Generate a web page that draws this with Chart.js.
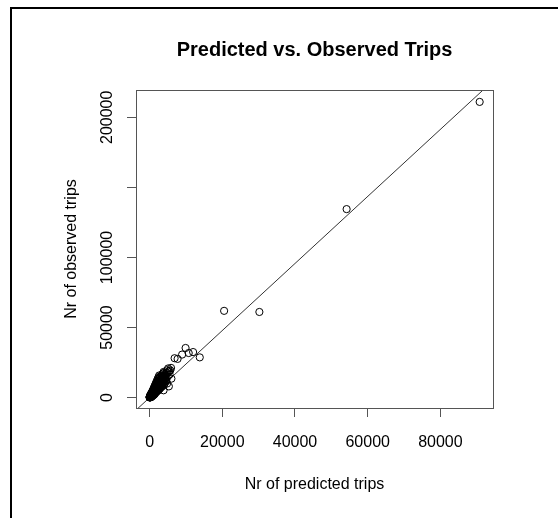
<!DOCTYPE html>
<html>
<head>
<meta charset="utf-8">
<script src="https://cdn.jsdelivr.net/npm/chart.js@4/dist/chart.umd.min.js"></script>
<style>
  html, body { margin: 0; padding: 0; background: #fff; }
  #wrap { width: 558px; height: 518px; }
</style>
</head>
<body>
<div id="wrap"><canvas id="chart" width="558" height="518"></canvas></div>
<script>
// --- DATA ---
const chartTitle = 'Predicted vs. Observed Trips';
const xTitle = 'Nr of predicted trips';
const yTitle = 'Nr of observed trips';

const xTicks = [0, 20000, 40000, 60000, 80000];
const xTickLabels = ['0', '20000', '40000', '60000', '80000'];
const yTicks = [0, 50000, 100000, 150000, 200000];
// R drops the 150000 label because it would collide with its neighbours
const yTickLabels = ['0', '50000', '100000', '', '200000'];

// predicted trips (x) and observed trips (y)
const predicted = [
    0, 20, 35, 60, 80, 110, 130, 150, 170, 190, 210, 240, 260, 280, 300, 320, 350, 370, 400, 420,
    450, 470, 500, 520, 550, 580, 600, 630, 660, 690, 720, 750, 780, 800, 830, 860, 900, 930, 960, 1000,
    1040, 1080, 1120, 1160, 1200, 1240, 1280, 1320, 1360, 1400, 1450, 1500, 1550, 1600, 1650, 1700, 1750, 1800, 1850, 1900,
    1950, 2000, 2060, 2120, 2180, 2240, 2300, 2360, 2420, 2480, 2550, 2620, 2700, 2780, 2850, 2930, 3000, 3100, 3200, 3300,
    3400, 3500, 3600, 3700, 3800, 3900, 4000, 4150, 4300, 4450, 4600, 4800, 5000, 5200, 5500, 5700, 3850, 4800, 6000, 4200,
    3850, 4800, 5300, 2500, 1300, 700,
    100, 200, 300, 400, 500, 600, 700, 800, 900, 1000, 1100, 1200, 1300, 1400, 1500, 1600, 1700, 1800, 1900, 2000,
    2100, 2200, 2300, 2400, 2500, 2600, 2700, 2800, 2900, 3000, 3150, 3300, 3450, 3600, 3750, 3900, 4050, 4200, 4400, 4600,
    50, 250, 450, 650, 850, 1050, 1250, 1450, 1650, 1850, 2050, 2250, 2450, 2650,
    150, 350, 550, 750, 950, 1150, 1350, 1550, 1750, 1950, 2150, 2350, 2550, 2750, 2950, 3150, 3350, 3550, 3750, 3950, 4150,
    5100, 5900, 5400,
    6880, 7700, 8950, 9900, 10760, 11970, 13800,
    20500, 30200, 54200, 90800
];
const observed = [
    150, 90, 420, 260, 510, 180, 640, 380, 820, 300, 960, 560, 1100, 720, 1340, 450, 1520, 980, 1700, 1210,
    620, 1880, 1450, 2150, 980, 2420, 1760, 2650, 1300, 2900, 2050, 3150, 1620, 3400, 2480, 3700, 2100, 3950, 2850, 4300,
    3200, 4650, 2600, 4950, 3750, 5300, 3100, 5650, 4300, 6000, 3600, 6400, 4900, 6900, 4200, 7300, 5600, 7800, 4800, 8200,
    6300, 8700, 5500, 9200, 7000, 9700, 6200, 10200, 7800, 10800, 6900, 11300, 8700, 11900, 7600, 12400, 9500, 13000, 8400, 13700,
    10500, 14300, 9300, 15000, 11600, 15600, 12700, 16200, 13900, 16900, 11800, 17700, 15000, 18400, 16500, 19500, 18300, 19500, 13500, 10400,
    5200, 10000, 8000, 5600, 2400, 1500,
    1200, 1800, 200, 2600, 500, 3200, 900, 4200, 1400, 5200, 1800, 6200, 2200, 7000, 2900, 8000, 3600, 9100, 4100, 10400,
    4600, 11200, 5100, 12200, 5500, 13100, 6100, 14200, 6700, 15000, 7300, 16000, 8000, 17000, 8700, 17600, 9500, 15300, 12000, 14500,
    700, 1700, 2900, 3900, 5000, 6200, 7400, 8600, 9800, 11000, 12100, 13400, 14600, 15800,
    900, 400, 1400, 2600, 3400, 4100, 5000, 5900, 6700, 7600, 8300, 9000, 10100, 10600, 11400, 12100, 12600, 13200, 13900, 14600, 12600,
    20800, 21200, 19000,
    28100, 27600, 30700, 35400, 31800, 32500, 28700,
    61900, 61100, 134500, 211000
];

// fitted line through the cloud (end points)
const fitX = [-4000, 95000];
const fitY = [-9570, 227300];

// --- CHART ---
const pointData = predicted.map((x, i) => ({ x, y: observed[i] }));
const fitData = fitX.map((x, i) => ({ x, y: fitY[i] }));

const FONT = '"Liberation Sans", Arial, sans-serif';

const rStyle = {
    id: 'rStyle',
    beforeDraw(chart) {
        const ctx = chart.ctx;
        ctx.save();
        ctx.fillStyle = '#fff';
        ctx.fillRect(0, 0, chart.width, chart.height);
        // outer frame (left and top only)
        ctx.strokeStyle = '#000';
        ctx.lineWidth = 2;
        ctx.beginPath();
        ctx.moveTo(11, chart.height);
        ctx.lineTo(11, 8);
        ctx.lineTo(chart.width, 8);
        ctx.stroke();
        ctx.restore();
    },
    afterDraw(chart) {
        const ctx = chart.ctx;
        const a = chart.chartArea;
        const xs = chart.scales.x, ys = chart.scales.y;
        ctx.save();
        // plot box
        ctx.strokeStyle = '#555';
        ctx.lineWidth = 1;
        ctx.strokeRect(a.left + 0.5, a.top + 0.5, a.right - a.left, a.bottom - a.top);

        ctx.fillStyle = '#000';
        ctx.font = '16px ' + FONT;
        ctx.textAlign = 'center';
        ctx.textBaseline = 'middle';
        xs.ticks.forEach((t, i) => ctx.fillText(xTickLabels[i], xs.getPixelForValue(t.value), 443));
        ys.ticks.forEach((t, i) => {
            ctx.save();
            ctx.translate(108, ys.getPixelForValue(t.value));
            ctx.rotate(-Math.PI / 2);
            ctx.fillText(yTickLabels[i], 0, 0);
            ctx.restore();
        });

        const cx = (a.left + a.right) / 2;
        const cy = (a.top + a.bottom) / 2;
        ctx.fillText(xTitle, cx, 485);
        ctx.save();
        ctx.translate(72, cy);
        ctx.rotate(-Math.PI / 2);
        ctx.fillText(yTitle, 0, 0);
        ctx.restore();

        ctx.font = 'bold 20px ' + FONT;
        ctx.fillText(chartTitle, cx, 50);
        ctx.restore();
    }
};

new Chart(document.getElementById('chart').getContext('2d'), {
    type: 'scatter',
    data: {
        datasets: [
            {
                label: 'trips',
                data: pointData,
                pointStyle: 'circle',
                pointRadius: 3.6,
                borderWidth: 1,
                borderColor: '#000',
                backgroundColor: 'rgba(0,0,0,0)'
            },
            {
                label: 'fit',
                data: fitData,
                showLine: true,
                pointRadius: 0,
                borderWidth: 1,
                borderColor: '#333'
            }
        ]
    },
    options: {
        responsive: false,
        animation: false,
        events: [],
        layout: { padding: { left: 0, top: 90, right: 65, bottom: 0 } },
        plugins: { legend: { display: false }, title: { display: false }, tooltip: { enabled: false } },
        scales: {
            x: {
                type: 'linear',
                min: -3740,
                max: 94470,
                afterBuildTicks: s => { s.ticks = xTicks.map(v => ({ value: v })); },
                afterFit: s => { s.height = 110; },
                ticks: { display: false },
                grid: { drawOnChartArea: false, drawTicks: true, tickLength: 9, color: '#555' },
                border: { display: false }
            },
            y: {
                type: 'linear',
                min: -7430,
                max: 219500,
                afterBuildTicks: s => { s.ticks = yTicks.map(v => ({ value: v })); },
                afterFit: s => { s.width = 136; },
                ticks: { display: false },
                grid: { drawOnChartArea: false, drawTicks: true, tickLength: 9, color: '#555' },
                border: { display: false }
            }
        }
    },
    plugins: [rStyle]
});
</script>
</body>
</html>
